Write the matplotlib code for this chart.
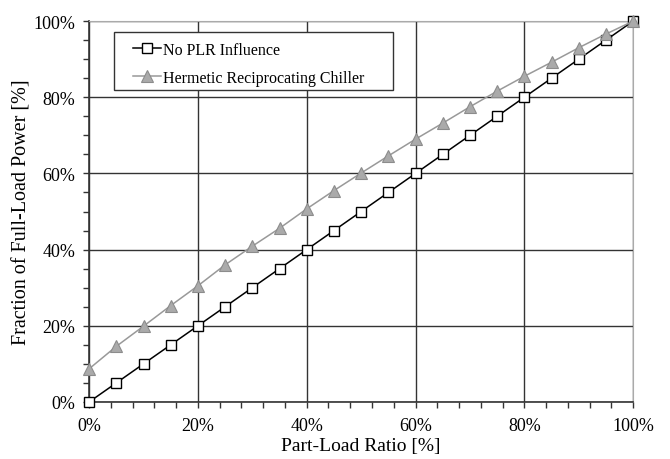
import numpy as np
import matplotlib.pyplot as plt
from matplotlib.patches import Rectangle
from matplotlib.ticker import MultipleLocator, PercentFormatter

plt.rcParams['font.family'] = ['Liberation Serif', 'DejaVu Serif']

# Part-load ratio [%]
plr = [0, 5, 10, 15, 20, 25, 30, 35, 40, 45, 50, 55, 60, 65, 70, 75, 80, 85, 90, 95, 100]
# Fraction of full-load power [%]
no_plr = [0, 5, 10, 15, 20, 25, 30, 35, 40, 45, 50, 55, 60, 65, 70, 75, 80, 85, 90, 95, 100]
chiller = [8.7, 14.6, 19.9, 25.3, 30.5, 36.0, 40.9, 45.6, 50.7, 55.5, 60.1, 64.6, 69.0,
           73.2, 77.5, 81.6, 85.5, 89.2, 93.0, 96.6, 100]

fig = plt.figure(figsize=(6.7, 4.6), dpi=100)
ax = fig.add_axes([0.133, 0.124, 0.812, 0.828])

ax.plot(plr, no_plr, color='black', lw=1.1, marker='s', markersize=7.5,
        markerfacecolor='white', markeredgecolor='black', markeredgewidth=1.0,
        label='No PLR Influence', zorder=3, clip_on=False)
ax.plot(plr, chiller, color='#999999', lw=1.1, marker='^', markersize=8.5,
        markerfacecolor='#aaaaaa', markeredgecolor='#8c8c8c', markeredgewidth=0.8,
        label='Hermetic Reciprocating Chiller', zorder=4, clip_on=False)

ax.set_xlim(0, 100)
ax.set_ylim(0, 100)
ax.xaxis.set_major_locator(MultipleLocator(20))
ax.xaxis.set_minor_locator(MultipleLocator(4))
ax.yaxis.set_major_locator(MultipleLocator(20))
ax.yaxis.set_minor_locator(MultipleLocator(5))
ax.xaxis.set_major_formatter(PercentFormatter(decimals=0))
ax.yaxis.set_major_formatter(PercentFormatter(decimals=0))

ax.grid(True, which='major', color='#333333', lw=1.0)
ax.set_axisbelow(True)
ax.tick_params(which='both', direction='out', length=4, width=1, colors='#333333',
               labelsize=13, labelcolor='black')
ax.tick_params(axis='x', which='major', pad=7)
ax.tick_params(axis='y', which='major', pad=6)
for s in ['top', 'right']:
    ax.spines[s].set_color('#aaaaaa')
for s in ['left', 'bottom']:
    ax.spines[s].set_color('#333333')
    ax.spines[s].set_linewidth(1.2)

ax.set_xlabel('Part-Load Ratio [%]', fontsize=14, labelpad=2)
ax.set_ylabel('Fraction of Full-Load Power [%]', fontsize=14.5, labelpad=1)

# legend box drawn separately so the padding matches
box = Rectangle((0.046, 0.819), 0.513, 0.152, transform=ax.transAxes,
                facecolor='white', edgecolor='#333333', lw=1.0, zorder=5)
ax.add_patch(box)
leg = ax.legend(loc='upper left', bbox_to_anchor=(0.055, 0.983), fontsize=11.5,
                handlelength=1.7, handletextpad=0.15, borderpad=0.4, labelspacing=0.75,
                frameon=False)
leg.set_zorder(6)

fig.savefig('out.png', dpi=100)
